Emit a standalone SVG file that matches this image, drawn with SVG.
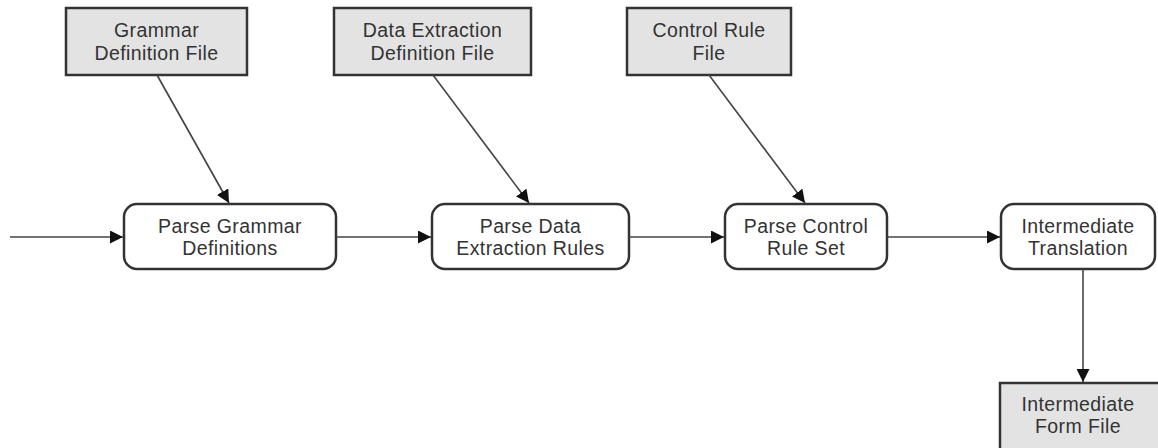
<svg xmlns="http://www.w3.org/2000/svg" width="1158" height="448" viewBox="0 0 1158 448">
  <style>
    .file rect { fill: #e3e3e3; stroke: #333333; stroke-width: 2.5; }
    .step rect { fill: #ffffff; stroke: #333333; stroke-width: 2.5; }
    text { font-family: "Liberation Sans", Arial, sans-serif; font-size: 19.5px; fill: #333333; text-anchor: middle; letter-spacing: 0.4px; }
    .edges line { stroke: #444444; stroke-width: 1.6; fill: none; marker-end: url(#arrow); }
  </style>
  <defs>
    <marker id="arrow" viewBox="0 0 10 10" refX="10" refY="5" markerUnits="userSpaceOnUse" markerWidth="13" markerHeight="13" orient="auto">
      <path d="M0,0 L10,5 L0,10 z" fill="#111111"/>
    </marker>
  </defs>
  <rect width="1158" height="448" fill="#ffffff"/>

  <!-- input files -->
  <g id="grammar-file" class="file">
    <rect x="66" y="8" width="181" height="67"/>
    <text x="156.5" y="37">Grammar</text>
    <text x="156.5" y="59.5">Definition File</text>
  </g>
  <g id="extraction-file" class="file">
    <rect x="334" y="8" width="197" height="67"/>
    <text x="432.5" y="37">Data Extraction</text>
    <text x="432.5" y="59.5">Definition File</text>
  </g>
  <g id="control-file" class="file">
    <rect x="627" y="8" width="164" height="67"/>
    <text x="709" y="37">Control Rule</text>
    <text x="709" y="59.5">File</text>
  </g>

  <!-- processing steps -->
  <g id="parse-grammar" class="step">
    <rect x="124" y="204" width="212" height="65" rx="13" ry="13"/>
    <text x="230" y="233">Parse Grammar</text>
    <text x="230" y="254.5">Definitions</text>
  </g>
  <g id="parse-extraction" class="step">
    <rect x="432" y="204" width="197" height="65" rx="13" ry="13"/>
    <text x="530.5" y="233">Parse Data</text>
    <text x="530.5" y="254.5">Extraction Rules</text>
  </g>
  <g id="parse-control" class="step">
    <rect x="725" y="204" width="162" height="65" rx="13" ry="13"/>
    <text x="806" y="233">Parse Control</text>
    <text x="806" y="254.5">Rule Set</text>
  </g>
  <g id="intermediate-translation" class="step">
    <rect x="1001" y="204" width="154" height="65" rx="13" ry="13"/>
    <text x="1078" y="233">Intermediate</text>
    <text x="1078" y="254.5">Translation</text>
  </g>

  <!-- output file -->
  <g id="intermediate-form-file" class="file">
    <rect x="1000" y="383" width="166" height="80"/>
    <text x="1078" y="411">Intermediate</text>
    <text x="1078" y="433">Form File</text>
  </g>

  <!-- connectors -->
  <g id="connectors" class="edges">
    <line x1="157" y1="75" x2="229" y2="203"/>
    <line x1="433" y1="75" x2="529" y2="203"/>
    <line x1="709" y1="75" x2="805" y2="203"/>
    <line x1="10" y1="237" x2="123" y2="237"/>
    <line x1="336" y1="237" x2="431" y2="237"/>
    <line x1="629" y1="237" x2="724" y2="237"/>
    <line x1="887" y1="237" x2="1000" y2="237"/>
    <line x1="1083" y1="269" x2="1083" y2="382"/>
  </g>
</svg>
